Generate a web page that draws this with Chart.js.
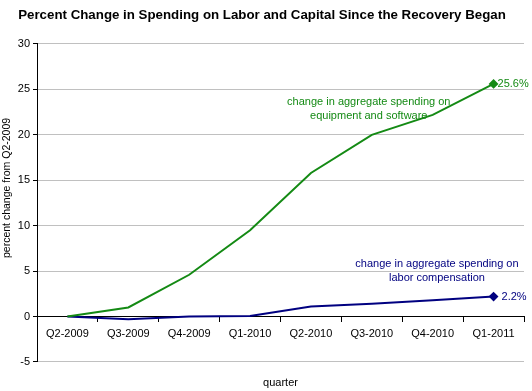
<!DOCTYPE html>
<html>
<head>
<meta charset="utf-8">
<script src="https://cdn.jsdelivr.net/npm/chart.js@4"></script>
<style>
    html, body { margin: 0; padding: 0; background: #fff; }
    #wrap { width: 532px; height: 391px; }
</style>
</head>
<body>
<div id="wrap"><canvas id="chart"></canvas></div>
<script>
const quarters = ['Q2-2009', 'Q3-2009', 'Q4-2009', 'Q1-2010', 'Q2-2010', 'Q3-2010', 'Q4-2010', 'Q1-2011'];
const equipmentSoftware = [0, 1.0, 4.6, 9.5, 15.8, 20.0, 22.2, 25.6];
const laborCompensation = [0, -0.3, 0, 0.05, 1.1, 1.4, 1.8, 2.2];
const yTicks = [-5, 0, 5, 10, 15, 20, 25, 30];

const GREEN = '#148a14';
const NAVY = '#000080';
const FONT = '"Liberation Sans", Arial, sans-serif';

const lastIdx = quarters.length - 1;

// Labels next to the lines, placed through the chart scales
const annotations = {
    id: 'annotations',
    afterDatasetsDraw(chart) {
        const { ctx, scales: { x, y }, chartArea } = chart;
        ctx.save();
        ctx.font = '11px ' + FONT;

        // end values
        ctx.textAlign = 'left';
        ctx.textBaseline = 'middle';
        const pG = chart.getDatasetMeta(0).data[lastIdx];
        const pB = chart.getDatasetMeta(1).data[lastIdx];
        ctx.fillStyle = GREEN;
        ctx.fillText(equipmentSoftware[lastIdx].toFixed(1) + '%', pG.x + 4, pG.y);
        ctx.fillStyle = NAVY;
        ctx.fillText(laborCompensation[lastIdx].toFixed(1) + '%', pB.x + 8, pB.y);

        // series captions
        ctx.textAlign = 'center';
        ctx.fillStyle = GREEN;
        ctx.fillText('change in aggregate spending on', x.getPixelForValue(4.95), y.getPixelForValue(23.6));
        ctx.fillText('equipment and software', x.getPixelForValue(4.95), y.getPixelForValue(22.05));
        ctx.fillStyle = NAVY;
        ctx.fillText('change in aggregate spending on', x.getPixelForValue(6.07), y.getPixelForValue(5.75));
        ctx.fillText('labor compensation', x.getPixelForValue(6.07), y.getPixelForValue(4.2));

        // axis title for x
        ctx.fillStyle = '#000';
        ctx.fillText('quarter', (chartArea.left + chartArea.right) / 2, chartArea.bottom + 21);

        // axis title for y
        ctx.font = '10.5px ' + FONT;
        ctx.translate(7, chartArea.top + 144);
        ctx.rotate(-Math.PI / 2);
        ctx.fillText('percent change from Q2-2009', 0, 0);
        ctx.restore();
    }
};

new Chart(document.getElementById('chart'), {
    type: 'line',
    data: {
        labels: quarters,
        datasets: [
            {
                label: 'equipment and software',
                data: equipmentSoftware,
                borderColor: GREEN,
                backgroundColor: GREEN,
                borderWidth: 2,
                tension: 0,
                pointStyle: 'rectRot',
                pointRadius: ctx => ctx.dataIndex === lastIdx ? 3.5 : 0
            },
            {
                label: 'labor compensation',
                data: laborCompensation,
                borderColor: NAVY,
                backgroundColor: NAVY,
                borderWidth: 2,
                tension: 0,
                pointStyle: 'rectRot',
                pointRadius: ctx => ctx.dataIndex === lastIdx ? 3.5 : 0
            }
        ]
    },
    options: {
        responsive: true,
        maintainAspectRatio: false,
        animation: false,
        events: [],
        layout: { padding: { left: 0, right: 8, top: 0, bottom: 29 } },
        plugins: {
            legend: { display: false },
            tooltip: { enabled: false },
            title: {
                display: true,
                text: 'Percent Change in Spending on Labor and Capital Since the Recovery Began',
                color: '#000',
                font: { family: FONT, size: 13.3, weight: 'bold' },
                padding: { top: 7, bottom: 21 }
            }
        },
        scales: {
            x: {
                position: { y: 0 },
                offset: true,
                grid: {
                    display: true,
                    offset: true,
                    drawOnChartArea: false,
                    tickLength: 5,
                    tickColor: '#000'
                },
                border: { color: '#000', width: 1 },
                ticks: {
                    color: '#000',
                    font: { family: FONT, size: 11 },
                    padding: 6,
                    maxRotation: 0,
                    autoSkip: false
                }
            },
            y: {
                min: -5,
                max: 30,
                afterBuildTicks: scale => { scale.ticks = yTicks.map(v => ({ value: v })); },
                afterFit: scale => { scale.width = 37; },
                grid: {
                    color: ctx => ctx.tick && ctx.tick.value === 0 ? '#000' : '#c0c0c0',
                    tickColor: '#000',
                    tickLength: 4
                },
                border: { color: '#000', width: 1 },
                ticks: {
                    color: '#000',
                    font: { family: FONT, size: 11 },
                    padding: 3
                }
            }
        }
    },
    plugins: [annotations]
});
</script>
</body>
</html>
